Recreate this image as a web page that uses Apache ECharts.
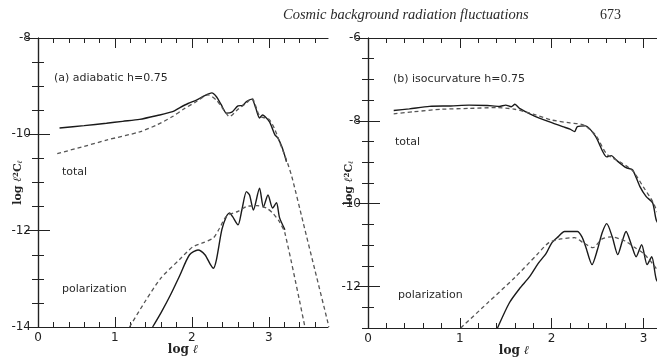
<!DOCTYPE html>
<html><head><meta charset="utf-8">
<script src="https://cdn.jsdelivr.net/npm/echarts@6/dist/echarts.min.js"></script>
<style>html,body{margin:0;padding:0;background:#fff}#c{width:657px;height:358px}</style>
</head><body><div id="c"></div>
<script>
// ---- tick labels ----
const leftXMajor = [0, 1, 2, 3];
const leftYMajor = [-14, -12, -10, -8];
const rightXMajor = [0, 1, 2, 3];
const rightYMajor = [-12, -10, -8, -6];

// ---- panel (a) adiabatic h=0.75 ----
const leftTotalSolid = [[0.28,-9.87],[0.6,-9.82],[0.89,-9.77],[1.1,-9.73],[1.32,-9.69],[1.55,-9.61],[1.75,-9.53],[1.84,-9.45],[1.95,-9.36],[2.06,-9.29],[2.16,-9.2],[2.26,-9.14],[2.32,-9.22],[2.38,-9.38],[2.45,-9.56],[2.52,-9.54],[2.6,-9.41],[2.66,-9.4],[2.71,-9.32],[2.78,-9.27],[2.83,-9.45],[2.88,-9.66],[2.92,-9.6],[2.95,-9.63],[3.01,-9.74],[3.04,-9.85],[3.08,-10.01],[3.12,-10.08],[3.17,-10.26],[3.2,-10.4],[3.23,-10.57]];
const leftTotalDashed = [[0.25,-10.4],[0.6,-10.25],[0.89,-10.12],[1.32,-9.95],[1.55,-9.8],[1.75,-9.63],[1.9,-9.47],[2.05,-9.33],[2.21,-9.18],[2.32,-9.29],[2.4,-9.46],[2.49,-9.63],[2.6,-9.48],[2.71,-9.35],[2.78,-9.25],[2.88,-9.62],[2.95,-9.66],[3.01,-9.7],[3.08,-9.9],[3.14,-10.16],[3.23,-10.53],[3.3,-10.88],[3.45,-11.85],[3.6,-12.82],[3.77,-13.92],[3.78,-14]];
const leftPolSolid = [[1.49,-14],[1.6,-13.7],[1.72,-13.34],[1.84,-12.94],[1.97,-12.5],[2.08,-12.4],[2.17,-12.5],[2.24,-12.7],[2.28,-12.78],[2.32,-12.6],[2.39,-11.98],[2.45,-11.7],[2.49,-11.63],[2.53,-11.71],[2.6,-11.88],[2.65,-11.57],[2.71,-11.19],[2.75,-11.26],[2.8,-11.57],[2.88,-11.12],[2.93,-11.51],[2.99,-11.26],[3.05,-11.53],[3.1,-11.42],[3.14,-11.73],[3.21,-11.98]];
const leftPolDashed = [[1.19,-14],[1.4,-13.45],[1.6,-12.98],[1.84,-12.6],[2.01,-12.34],[2.15,-12.25],[2.28,-12.15],[2.36,-11.95],[2.45,-11.7],[2.6,-11.6],[2.71,-11.5],[2.85,-11.48],[2.97,-11.53],[3.06,-11.65],[3.14,-11.82],[3.21,-12.05],[3.47,-14]];

// ---- panel (b) isocurvature h=0.75 ----
const rightTotalSolid = [[0.28,-7.75],[0.45,-7.71],[0.67,-7.65],[0.9,-7.64],[1.1,-7.62],[1.3,-7.63],[1.43,-7.65],[1.5,-7.62],[1.56,-7.66],[1.6,-7.6],[1.65,-7.7],[1.79,-7.86],[1.97,-8.02],[2.12,-8.14],[2.2,-8.2],[2.25,-8.26],[2.28,-8.14],[2.37,-8.12],[2.48,-8.38],[2.6,-8.87],[2.65,-8.84],[2.7,-8.94],[2.81,-9.13],[2.88,-9.18],[2.96,-9.58],[3.03,-9.83],[3.1,-9.98],[3.14,-10.4],[3.2,-10.6]];
const rightTotalDashed = [[0.28,-7.83],[0.5,-7.78],[0.8,-7.72],[1.1,-7.7],[1.4,-7.68],[1.6,-7.72],[1.8,-7.84],[2.0,-7.98],[2.2,-8.05],[2.35,-8.1],[2.48,-8.35],[2.6,-8.8],[2.75,-9.0],[2.88,-9.2],[3.0,-9.6],[3.1,-9.95],[3.2,-10.45]];
const rightPolSolid = [[1.41,-13],[1.54,-12.39],[1.65,-12.05],[1.76,-11.76],[1.85,-11.45],[1.94,-11.2],[2.0,-10.95],[2.07,-10.8],[2.14,-10.67],[2.28,-10.67],[2.33,-10.8],[2.37,-11.03],[2.44,-11.47],[2.5,-11.1],[2.55,-10.7],[2.6,-10.48],[2.66,-10.8],[2.72,-11.23],[2.77,-10.9],[2.81,-10.67],[2.87,-11.0],[2.92,-11.28],[2.98,-10.99],[3.04,-11.47],[3.09,-11.28],[3.14,-11.83],[3.2,-12.0]];
const rightPolDashed = [[1.01,-13],[1.3,-12.4],[1.6,-11.78],[1.84,-11.23],[1.97,-10.94],[2.1,-10.85],[2.25,-10.82],[2.35,-10.95],[2.45,-11.06],[2.55,-10.85],[2.65,-10.8],[2.8,-10.9],[2.9,-11.05],[3.0,-11.2],[3.1,-11.45],[3.2,-11.75]];

function steps(a, b, s) { const r = []; for (let v = a; v <= b + 1e-9; v += s) r.push(Math.round(v * 100) / 100); return r; }

const INK = '#222';
const labelFont = { color: INK, fontFamily: 'DejaVu Sans', fontSize: 12 };

function axisSet(dim, grid, min, max, majors, minors, majorLen, minorLen, name, nameGap, nameExtra) {
  const base = { type: 'value', gridIndex: grid, min: min, max: max, splitLine: { show: false }, nameMoveOverlap: false };
  const A = dim === 'x' ? 'bottom' : 'left', B = dim === 'x' ? 'top' : 'right';
  const line = { show: true, lineStyle: { color: INK, width: 1.2 } };
  const tk = (len, vals) => ({ show: true, inside: false, length: -len, customValues: vals, lineStyle: { color: INK, width: 1 } });
  return [
    Object.assign({}, base, { position: A, axisLine: line, axisTick: tk(majorLen, majors),
      axisLabel: Object.assign({ show: true, customValues: majors, margin: dim === 'x' ? 5 : 7 }, labelFont),
      name: name, nameLocation: 'middle', nameGap: nameGap }, nameExtra || {}),
    Object.assign({}, base, { position: A, axisLine: { show: false }, axisTick: tk(minorLen, minors), axisLabel: { show: false } }),
    Object.assign({}, base, { position: B, axisLine: line, axisTick: tk(majorLen, majors), axisLabel: { show: false } }),
    Object.assign({}, base, { position: B, axisLine: { show: false }, axisTick: tk(minorLen, minors), axisLabel: { show: false } })
  ];
}

const xName = 'log {i|ℓ}';
const xNameStyle = { nameTextStyle: { color: INK, fontFamily: 'DejaVu Serif', fontSize: 12, fontWeight: 'bold',
  rich: { i: { fontFamily: 'DejaVu Serif', fontStyle: 'italic', fontSize: 12, color: INK } } } };
const yName = 'log {i|ℓ}{sup|2}C{sub|ℓ}';
const yNameStyle = { nameRotate: 90, nameTextStyle: { color: INK, fontFamily: 'DejaVu Serif', fontSize: 11, fontWeight: 'bold',
  rich: { i: { fontFamily: 'DejaVu Serif', fontStyle: 'italic', fontSize: 11, color: INK },
          sup: { fontSize: 7, verticalAlign: 'top', color: INK, fontFamily: 'DejaVu Serif' },
          sub: { fontSize: 7, verticalAlign: 'bottom', color: INK, fontFamily: 'DejaVu Serif', fontStyle: 'italic' } } } };

const xAxes = [].concat(
  axisSet('x', 0, 0, 3.77, leftXMajor, steps(0, 3.7, 0.2), 10, 5, xName, 17, xNameStyle),
  axisSet('x', 1, 0, 3.18, rightXMajor, steps(0, 3.1, 0.2), 10, 5, xName, 17, xNameStyle)
);
const yAxes = [].concat(
  axisSet('y', 0, -14, -8, leftYMajor, steps(-14, -8, 0.5), 12, 6, yName, 14, yNameStyle),
  axisSet('y', 1, -13, -6, rightYMajor, steps(-13, -6, 0.5), 12, 6, yName, 13, yNameStyle)
);

function ser(data, gi, dashed) {
  return { type: 'line', data: data, xAxisIndex: gi * 4, yAxisIndex: gi * 4, showSymbol: false, smooth: 0.25,
    clip: true, silent: true, animation: false,
    lineStyle: dashed ? { color: '#555', width: 1.3, type: [4, 3] } : { color: '#1a1a1a', width: 1.4 } };
}

const txt = (x, y, s, font) => ({ type: 'text', x: x, y: y, silent: true,
  style: { text: s, font: font || '11px "DejaVu Sans"', fill: '#2a2a2a', align: 'left', verticalAlign: 'middle' } });

const chart = echarts.init(document.getElementById('c'), null, { renderer: 'canvas' });
chart.setOption({
  animation: false,
  backgroundColor: '#fff',
  grid: [
    { left: 38, top: 38, width: 290, height: 289, outerBoundsMode: 'none', containLabel: false },
    { left: 368, top: 38, width: 292, height: 290, outerBoundsMode: 'none', containLabel: false }
  ],
  xAxis: xAxes,
  yAxis: yAxes,
  series: [
    ser(leftTotalSolid, 0, false), ser(leftTotalDashed, 0, true),
    ser(leftPolSolid, 0, false), ser(leftPolDashed, 0, true),
    ser(rightTotalSolid, 1, false), ser(rightTotalDashed, 1, true),
    ser(rightPolSolid, 1, false), ser(rightPolDashed, 1, true)
  ],
  graphic: [
    txt(283, 15, 'Cosmic background radiation fluctuations', 'italic 14.5px "Liberation Serif"'),
    txt(600, 15, '673', '14px "Liberation Serif"'),
    txt(54, 78, '(a) adiabatic h=0.75'),
    txt(62, 172, 'total'),
    txt(62, 289, 'polarization'),
    txt(393, 79, '(b) isocurvature h=0.75'),
    txt(395, 142, 'total'),
    txt(398, 295, 'polarization')
  ]
});
</script>
</body></html>
